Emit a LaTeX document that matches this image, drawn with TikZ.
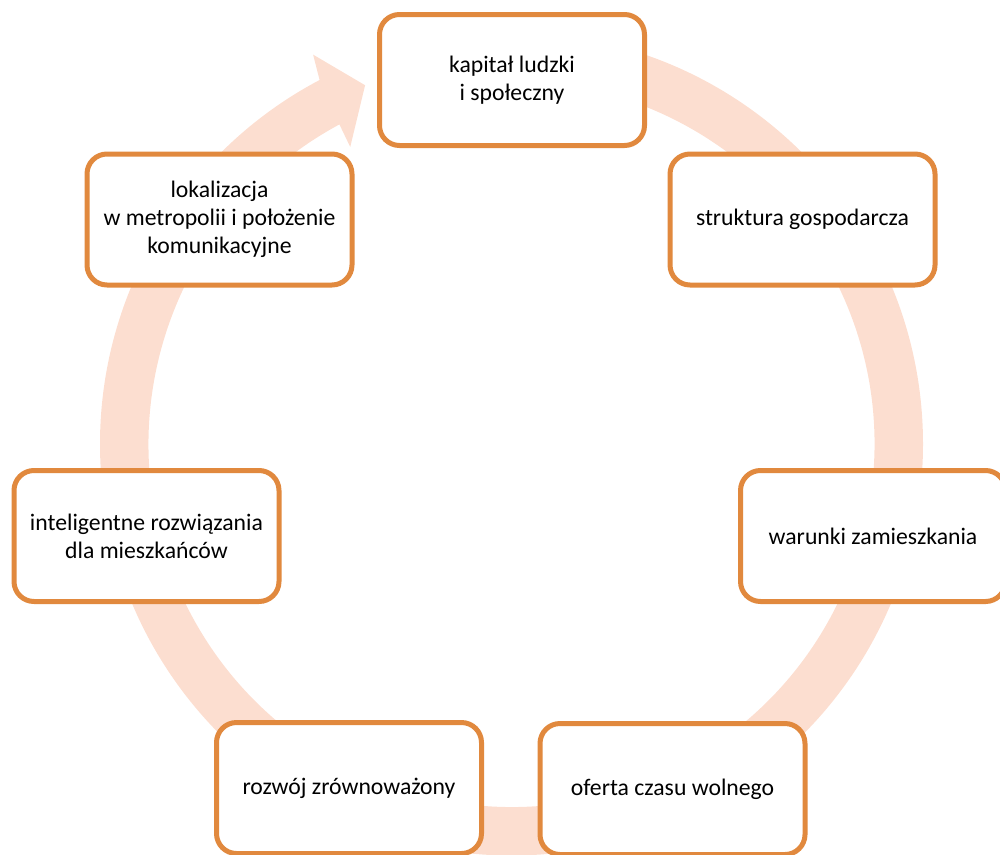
\documentclass[tikz,border=0pt]{standalone}
\usepackage{fontspec}
\setmainfont{Carlito}
\definecolor{ringc}{RGB}{252,222,208}
\definecolor{boxc}{RGB}{225,137,62}
\begin{document}
\begin{tikzpicture}[x=1pt,y=1pt,
  box/.style={draw=boxc, line width=5pt, fill=white, rounded corners=20pt,
    minimum width=265pt, minimum height=131pt, align=center, inner sep=0pt,
    font=\fontsize{23.7}{28}\selectfont, text=black}]
\useasboundingbox (0,0) rectangle (1000,-854);
\clip (0,0) rectangle (1000,-854);
\begin{scope}[shift={(511.5,-444)}]
\fill[ringc] (90:411.5) arc[start angle=90,end angle=-242.2,radius=411.5]
  -- (117:437) -- (112.2:387.5) -- (118.5:338) -- (118.3:363)
  arc[start angle=-241.7,end angle=90,radius=363] -- cycle;
\end{scope}
\node[box] (kap) at (512,-80) {kapitał ludzki\\i społeczny};
\node[box] (str) at (802.5,-219.5) {struktura gospodarcza};
\node[box] (war) at (873,-536) {warunki zamieszkania};
\node[box] (ofe) at (672.5,-789) {oferta czasu wolnego};
\node[box] (roz) at (349,-788) {rozwój zrównoważony};
\node[box] (int) at (146.5,-536) {inteligentne rozwiązania\\dla mieszkańców};
\node[box] (lok) at (219.5,-219.5) {lokalizacja\\w metropolii i położenie\\komunikacyjne};
\end{tikzpicture}
\end{document}
